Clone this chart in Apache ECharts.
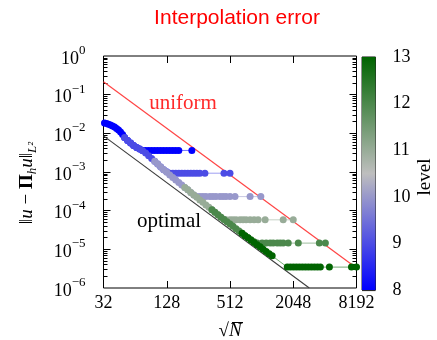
<!DOCTYPE html>
<html><head><meta charset="utf-8">
<script src="https://cdn.jsdelivr.net/npm/echarts@6/dist/echarts.min.js"></script>
<style>html,body{margin:0;padding:0;background:#fff}#c{width:437px;height:340px}</style>
</head><body><div id="c"></div>
<script>
// ---- axis ticks / labels ----
const xTickLabels = [32, 128, 512, 2048, 8192];
const xMajorTicks = [128, 512, 2048];
const yTickLabels = [1e-6, 1e-5, 1e-4, 1e-3, 1e-2, 1e-1, 1];
const yMajorTicks = [1e-5, 1e-4, 1e-3, 1e-2, 1e-1];
const levelTicks = [8, 9, 10, 11, 12, 13];
const levels = [8, 9, 10, 11, 12, 13];

// ---- data: sqrt(N) and L2 error per level ----
const n8 = [32.7,34.2,35.7,37.3,39.0,40.8,42.6,44.5,46.5,48.6,50.8,54.3,58.0,61.9,66.2,70.7,75.5,
            80.6,86.1,92.0,98.3,105,112.2,119.8,128,136.7,146.1,156,166.7,221.9];
const e8 = [1.857e-2,1.791e-2,1.718e-2,1.649e-2,1.553e-2,1.464e-2,1.339e-2,1.224e-2,1.087e-2,9.37e-3,7.84e-3,6.55e-3,5.65e-3,4.87e-3,4.32e-3,3.91e-3,3.61e-3,
            3.61e-3,3.61e-3,3.61e-3,3.61e-3,3.61e-3,3.61e-3,3.61e-3,3.61e-3,3.61e-3,3.61e-3,3.61e-3,3.61e-3,3.61e-3];

const n9 = [50.8,54.3,58.0,61.9,66.2,70.7,75.5,80.6,86.1,92.0,98.3,105,112.2,119.8,128,136.7,
            146.1,156,166.7,178,190.2,203.2,217,231.9,247.7,264.6,295.4,448.7,512];
const e9 = [7.84e-3,6.55e-3,5.65e-3,4.87e-3,4.32e-3,3.91e-3,3.55e-3,3.12e-3,2.64e-3,2.23e-3,1.89e-3,1.60e-3,1.35e-3,1.15e-3,1.01e-3,9.31e-4,
            9.31e-4,9.31e-4,9.31e-4,9.31e-4,9.31e-4,9.31e-4,9.31e-4,9.31e-4,9.31e-4,9.31e-4,9.31e-4,9.31e-4,9.31e-4];

const n10 = [98.3,105,112.2,119.8,128,136.7,146.1,156,166.7,178,190.2,203.2,217,231.9,247.7,
             264.6,282.6,301.9,329.7,352.2,376.3,410.9,439,468.9,512,571.5,795,1006];
const e10 = [1.89e-3,1.60e-3,1.35e-3,1.15e-3,9.82e-4,8.42e-4,7.25e-4,6.25e-4,5.36e-4,4.64e-4,4.0e-4,3.45e-4,2.97e-4,2.56e-4,2.31e-4,
             2.31e-4,2.31e-4,2.31e-4,2.31e-4,2.31e-4,2.31e-4,2.31e-4,2.31e-4,2.31e-4,2.31e-4,2.31e-4,2.31e-4,2.31e-4];

const n11 = [190.2,203.2,217,231.9,247.7,264.6,282.6,301.9,322.5,344.5,368,393.2,420,448.7,468.9,
             512,547,584.3,638,681.6,728,795,868,947.9,1106,1643,2048];
const e11 = [4.0e-4,3.45e-4,2.97e-4,2.56e-4,2.21e-4,1.90e-4,1.64e-4,1.41e-4,1.22e-4,1.05e-4,9.04e-5,7.79e-5,6.79e-5,5.93e-5,5.79e-5,
             5.79e-5,5.79e-5,5.79e-5,5.79e-5,5.79e-5,5.79e-5,5.79e-5,5.79e-5,5.79e-5,5.79e-5,5.79e-5,5.79e-5];

const n12 = [344.5,368,393.2,420,448.7,479.3,512,547,584.3,624,667,712,761,813,868,927,
             1035,1131,1234,1319,1440,1538,1643,1835,2286,3629,4141];
const e12 = [1.05e-4,9.04e-5,7.79e-5,6.79e-5,5.93e-5,5.17e-5,4.51e-5,3.93e-5,3.43e-5,2.97e-5,2.59e-5,2.26e-5,1.98e-5,1.76e-5,1.56e-5,1.45e-5,
             1.45e-5,1.45e-5,1.45e-5,1.45e-5,1.45e-5,1.45e-5,1.45e-5,1.45e-5,1.45e-5,1.45e-5,1.45e-5];

const n13 = [667,712,761,813,868,927,991,1058,1131,1208,1290,
             1795,1917,2048,2188,2337,2496,2667,2849,3043,3251,3473,3710,4523,7338,8192];
const e13 = [2.59e-5,2.26e-5,1.98e-5,1.73e-5,1.51e-5,1.32e-5,1.16e-5,1.01e-5,8.82e-6,7.74e-6,6.79e-6,
             3.47e-6,3.47e-6,3.47e-6,3.47e-6,3.47e-6,3.47e-6,3.47e-6,3.47e-6,3.47e-6,3.47e-6,3.47e-6,3.47e-6,3.47e-6,3.47e-6,3.47e-6];

const uniformN = [32, 8192];
const uniformErr = [0.217, 3.3e-6];
const optimalN = [32, 2912];
const optimalErr = [8.6e-3, 1.0e-6];

const colorbarRange = [8, 13];

// ---- styles ----
const levelColors = ['#0000ff', '#4c4ce5', '#9898cb', '#98ac98', '#4c884c', '#006400'];
const SERIF = "'Liberation Serif', 'DejaVu Serif', serif";
const SANS = "'Liberation Sans', 'DejaVu Sans', sans-serif";

const levelN = [n8, n9, n10, n11, n12, n13];
const levelE = [e8, e9, e10, e11, e12, e13];

const yMinorTicks = [];
for (let k = -6; k < 0; k++) for (let m = 2; m <= 9; m++) yMinorTicks.push(+(m * Math.pow(10, k)).toPrecision(3));

const zip = (a, b) => a.map((v, i) => [v, b[i]]);

const chart = echarts.init(document.getElementById('c'), null, {renderer: 'canvas'});

const tickStyle = {color: '#000', width: 1};
const baseLog = (extra) => Object.assign({
  type: 'log', gridIndex: 0, axisLine: {show: false}, splitLine: {show: false},
}, extra);

const series = [
  {type: 'line', name: 'uniform', data: zip(uniformN, uniformErr), showSymbol: false, silent: true,
   lineStyle: {color: '#ff4545', width: 1.2}, z: 2},
  {type: 'line', name: 'optimal', data: zip(optimalN, optimalErr), showSymbol: false, silent: true,
   lineStyle: {color: '#3c3c3c', width: 1.1}, z: 2},
];
levels.forEach((lv, i) => {
  series.push({
    type: 'line', name: 'level ' + lv, data: zip(levelN[i], levelE[i]),
    symbol: 'circle', symbolSize: 7, showSymbol: true, silent: true,
    itemStyle: {color: levelColors[i], borderWidth: 0},
    lineStyle: {color: levelColors[i], width: 1, opacity: 0.55},
    z: 3 + i
  });
});
series.push({
  type: 'custom', xAxisIndex: 2, yAxisIndex: 4, silent: true, z: 1,
  data: [[0, colorbarRange[0]]],
  renderItem: (params, api) => {
    const p0 = api.coord([0, colorbarRange[0]]);
    const p1 = api.coord([1, colorbarRange[1]]);
    return {type: 'rect', shape: {x: p0[0], y: p1[1], width: p1[0] - p0[0], height: p0[1] - p1[1]},
      style: {fill: new echarts.graphic.LinearGradient(0, 0, 0, 1, [
        {offset: 0, color: '#006400'}, {offset: 0.5, color: '#bebebe'}, {offset: 1, color: '#0000ff'}])}};
  }
});

const option = {
  animation: false,
  backgroundColor: '#fff',
  grid: [
    {left: 103.5, top: 56, width: 253, height: 232, show: true, borderColor: '#000', borderWidth: 1, backgroundColor: 'transparent'},
    {left: 362, top: 57, width: 13.5, height: 233, show: true, borderColor: '#222', borderWidth: 1, backgroundColor: 'transparent'}
  ],
  xAxis: [
    baseLog({logBase: 2, min: 32, max: 8192, position: 'bottom',
      axisTick: {show: true, inside: true, length: 7, lineStyle: tickStyle, customValues: xMajorTicks},
      axisLabel: {customValues: xTickLabels, margin: 6, color: '#000', fontFamily: SERIF, fontSize: 18,
        formatter: v => String(Math.round(v))}}),
    baseLog({logBase: 2, min: 32, max: 8192, position: 'top',
      axisTick: {show: true, inside: true, length: 7, lineStyle: tickStyle, customValues: xMajorTicks},
      axisLabel: {show: false}}),
    {type: 'value', gridIndex: 1, min: 0, max: 1, show: false}
  ],
  yAxis: [
    baseLog({logBase: 10, min: 1e-6, max: 1, position: 'left',
      axisTick: {show: true, inside: true, length: 7, lineStyle: tickStyle, customValues: yMajorTicks},
      axisLabel: {customValues: yTickLabels, margin: 18, color: '#000',
        formatter: v => { const e = Math.round(Math.log10(v)); return '{b|10}{s|' + (e < 0 ? '\u2212' + (-e) : e) + '}'; },
        rich: {b: {fontFamily: SERIF, fontSize: 18, lineHeight: 24, color: '#000', verticalAlign: 'bottom'},
               s: {fontFamily: SERIF, fontSize: 13, lineHeight: 13, color: '#000', verticalAlign: 'top'}}}}),
    baseLog({logBase: 10, min: 1e-6, max: 1, position: 'left',
      axisTick: {show: true, inside: true, length: 4, lineStyle: tickStyle, customValues: yMinorTicks},
      axisLabel: {show: false}}),
    baseLog({logBase: 10, min: 1e-6, max: 1, position: 'right',
      axisTick: {show: true, inside: true, length: 7, lineStyle: tickStyle, customValues: yMajorTicks},
      axisLabel: {show: false}}),
    baseLog({logBase: 10, min: 1e-6, max: 1, position: 'right',
      axisTick: {show: true, inside: true, length: 4, lineStyle: tickStyle, customValues: yMinorTicks},
      axisLabel: {show: false}}),
    {type: 'value', gridIndex: 1, min: 8, max: 13, interval: 1, position: 'right',
      axisLine: {show: false}, axisTick: {show: false},
      splitLine: {show: true, lineStyle: {color: '#2a2a2a', width: 1.2}},
      axisLabel: {margin: 17, color: '#000', fontFamily: SERIF, fontSize: 18, formatter: v => String(v)}}
  ],
  graphic: [
    {type: 'text', x: 237, y: 18, style: {text: 'Interpolation error', fill: '#ff0000', font: '21px ' + SANS, align: 'center', verticalAlign: 'middle'}},
    {type: 'text', x: 183, y: 103, z: 50, style: {text: 'uniform', fill: '#ff2a2a', font: '21px ' + SERIF, align: 'center', verticalAlign: 'middle'}},
    {type: 'text', x: 169, y: 221, z: 50, style: {text: 'optimal', fill: '#000', font: '21px ' + SERIF, align: 'center', verticalAlign: 'middle'}},
    {type: 'text', x: 230, y: 331, style: {text: '\u221AN', fill: '#000', font: 'italic 19px ' + SERIF, align: 'center', verticalAlign: 'middle'}},
    {type: 'line', shape: {x1: 232, y1: 322.5, x2: 243, y2: 322.5}, style: {stroke: '#000', lineWidth: 1}},
    {type: 'text', x: 425, y: 177, rotation: Math.PI / 2, style: {text: 'level', fill: '#000', font: '19px ' + SERIF, align: 'center', verticalAlign: 'middle'}},
    {type: 'text', x: 27, y: 183, rotation: Math.PI / 2,
     style: {text: '{n|\u2016}{i|u}{n| \u2212 }{b|\u03A0}{s|h}{i|u}{n|\u2016}{s|L\u00B2}', align: 'center', verticalAlign: 'middle',
       rich: {n: {fontFamily: SERIF, fontSize: 19, lineHeight: 24, verticalAlign: 'middle', fill: '#000'},
              i: {fontFamily: SERIF, fontSize: 19, fontStyle: 'italic', lineHeight: 24, verticalAlign: 'middle', fill: '#000'},
              b: {fontFamily: SERIF, fontSize: 19, fontWeight: 'bold', lineHeight: 24, verticalAlign: 'middle', fill: '#000'},
              s: {fontFamily: SERIF, fontSize: 13, fontStyle: 'italic', lineHeight: 14, verticalAlign: 'bottom', fill: '#000'}}}}
  ],
  series: series
};
chart.setOption(option);
</script></body></html>
